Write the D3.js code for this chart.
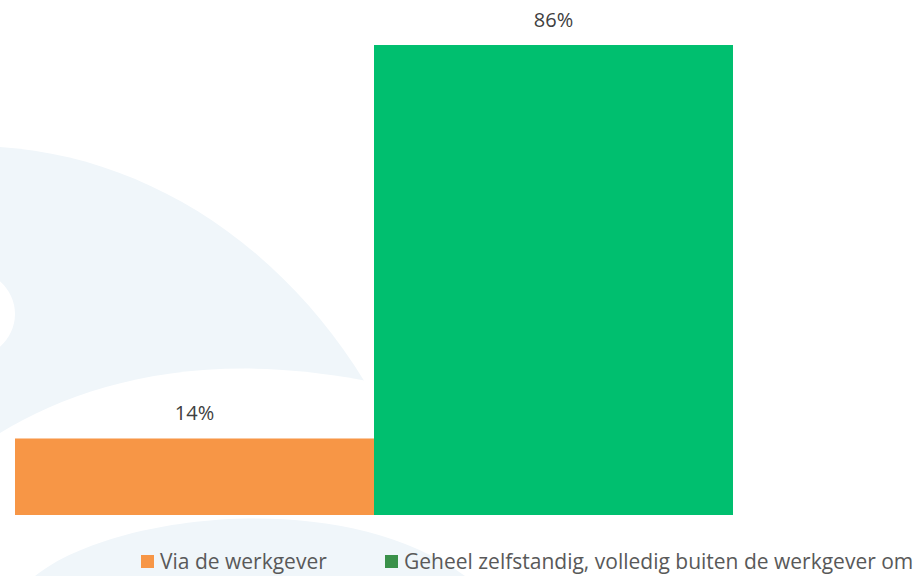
<!DOCTYPE html>
<html lang="nl">
<head>
    <meta charset="UTF-8">
    <title>Via de werkgever vs geheel zelfstandig</title>
    <script src="https://d3js.org/d3.v7.min.js"></script>
    <style>
        body {
            margin: 0;
            background: #fff;
            font-family: "Open Sans", sans-serif;
        }
    </style>
</head>
<body>
<div id="chart"></div>
<script>
    // data
    const categories = ["Via de werkgever", "Geheel zelfstandig, volledig buiten de werkgever om"];
    const values = [14, 86];
    const valueLabels = ["14%", "86%"];
    const barColors = ["#f79646", "#00bf6f"];
    const legendColors = ["#f79646", "#3a914a"];

    const width = 919, height = 576;

    const svg = d3.select("#chart")
        .append("svg")
        .attr("width", width)
        .attr("height", height);

    // faint watermark in the background
    const bg = svg.append("g");
    bg.append("path")
        .attr("d", "M0,147 C200,160 385,320 442,576 L0,576 Z")
        .attr("fill", "#f0f6fa");
    bg.append("ellipse")
        .attr("cx", -38).attr("cy", 314)
        .attr("rx", 53).attr("ry", 47)
        .attr("fill", "#fff");
    bg.append("path")
        .attr("d", "M0,433 C100,372 260,335 480,412 L480,576 L0,576 Z")
        .attr("fill", "#fff");
    bg.append("path")
        .attr("d", "M35,576 C110,515 340,485 465,576 Z")
        .attr("fill", "#f0f6fa");

    const x = d3.scaleBand()
        .domain(categories)
        .range([15, 733])
        .padding(0);

    const y = d3.scaleLinear()
        .domain([0, 100])
        .range([515, -31.5]);

    svg.selectAll(".bar")
        .data(categories)
        .enter()
        .append("rect")
        .attr("class", "bar")
        .attr("x", d => x(d))
        .attr("width", x.bandwidth())
        .attr("y", (d, i) => y(values[i]))
        .attr("height", (d, i) => y(0) - y(values[i]))
        .attr("fill", (d, i) => barColors[i]);

    svg.selectAll(".val")
        .data(categories)
        .enter()
        .append("text")
        .attr("class", "val")
        .attr("x", d => x(d) + x.bandwidth() / 2)
        .attr("y", (d, i) => y(values[i]) - 18)
        .attr("text-anchor", "middle")
        .attr("fill", "#404040")
        .style("font-size", "20px")
        .text((d, i) => valueLabels[i]);

    // legend
    const legendX = [141, 385];
    const legend = svg.selectAll(".legend-item")
        .data(categories)
        .enter()
        .append("g")
        .attr("class", "legend-item")
        .attr("transform", (d, i) => `translate(${legendX[i]}, 555)`);

    legend.append("rect")
        .attr("width", 13)
        .attr("height", 13)
        .attr("fill", (d, i) => legendColors[i]);

    legend.append("text")
        .attr("x", 19)
        .attr("y", 13.5)
        .attr("fill", "#595959")
        .style("font-size", "21px")
        .text(d => d);
</script>
</body>
</html>
